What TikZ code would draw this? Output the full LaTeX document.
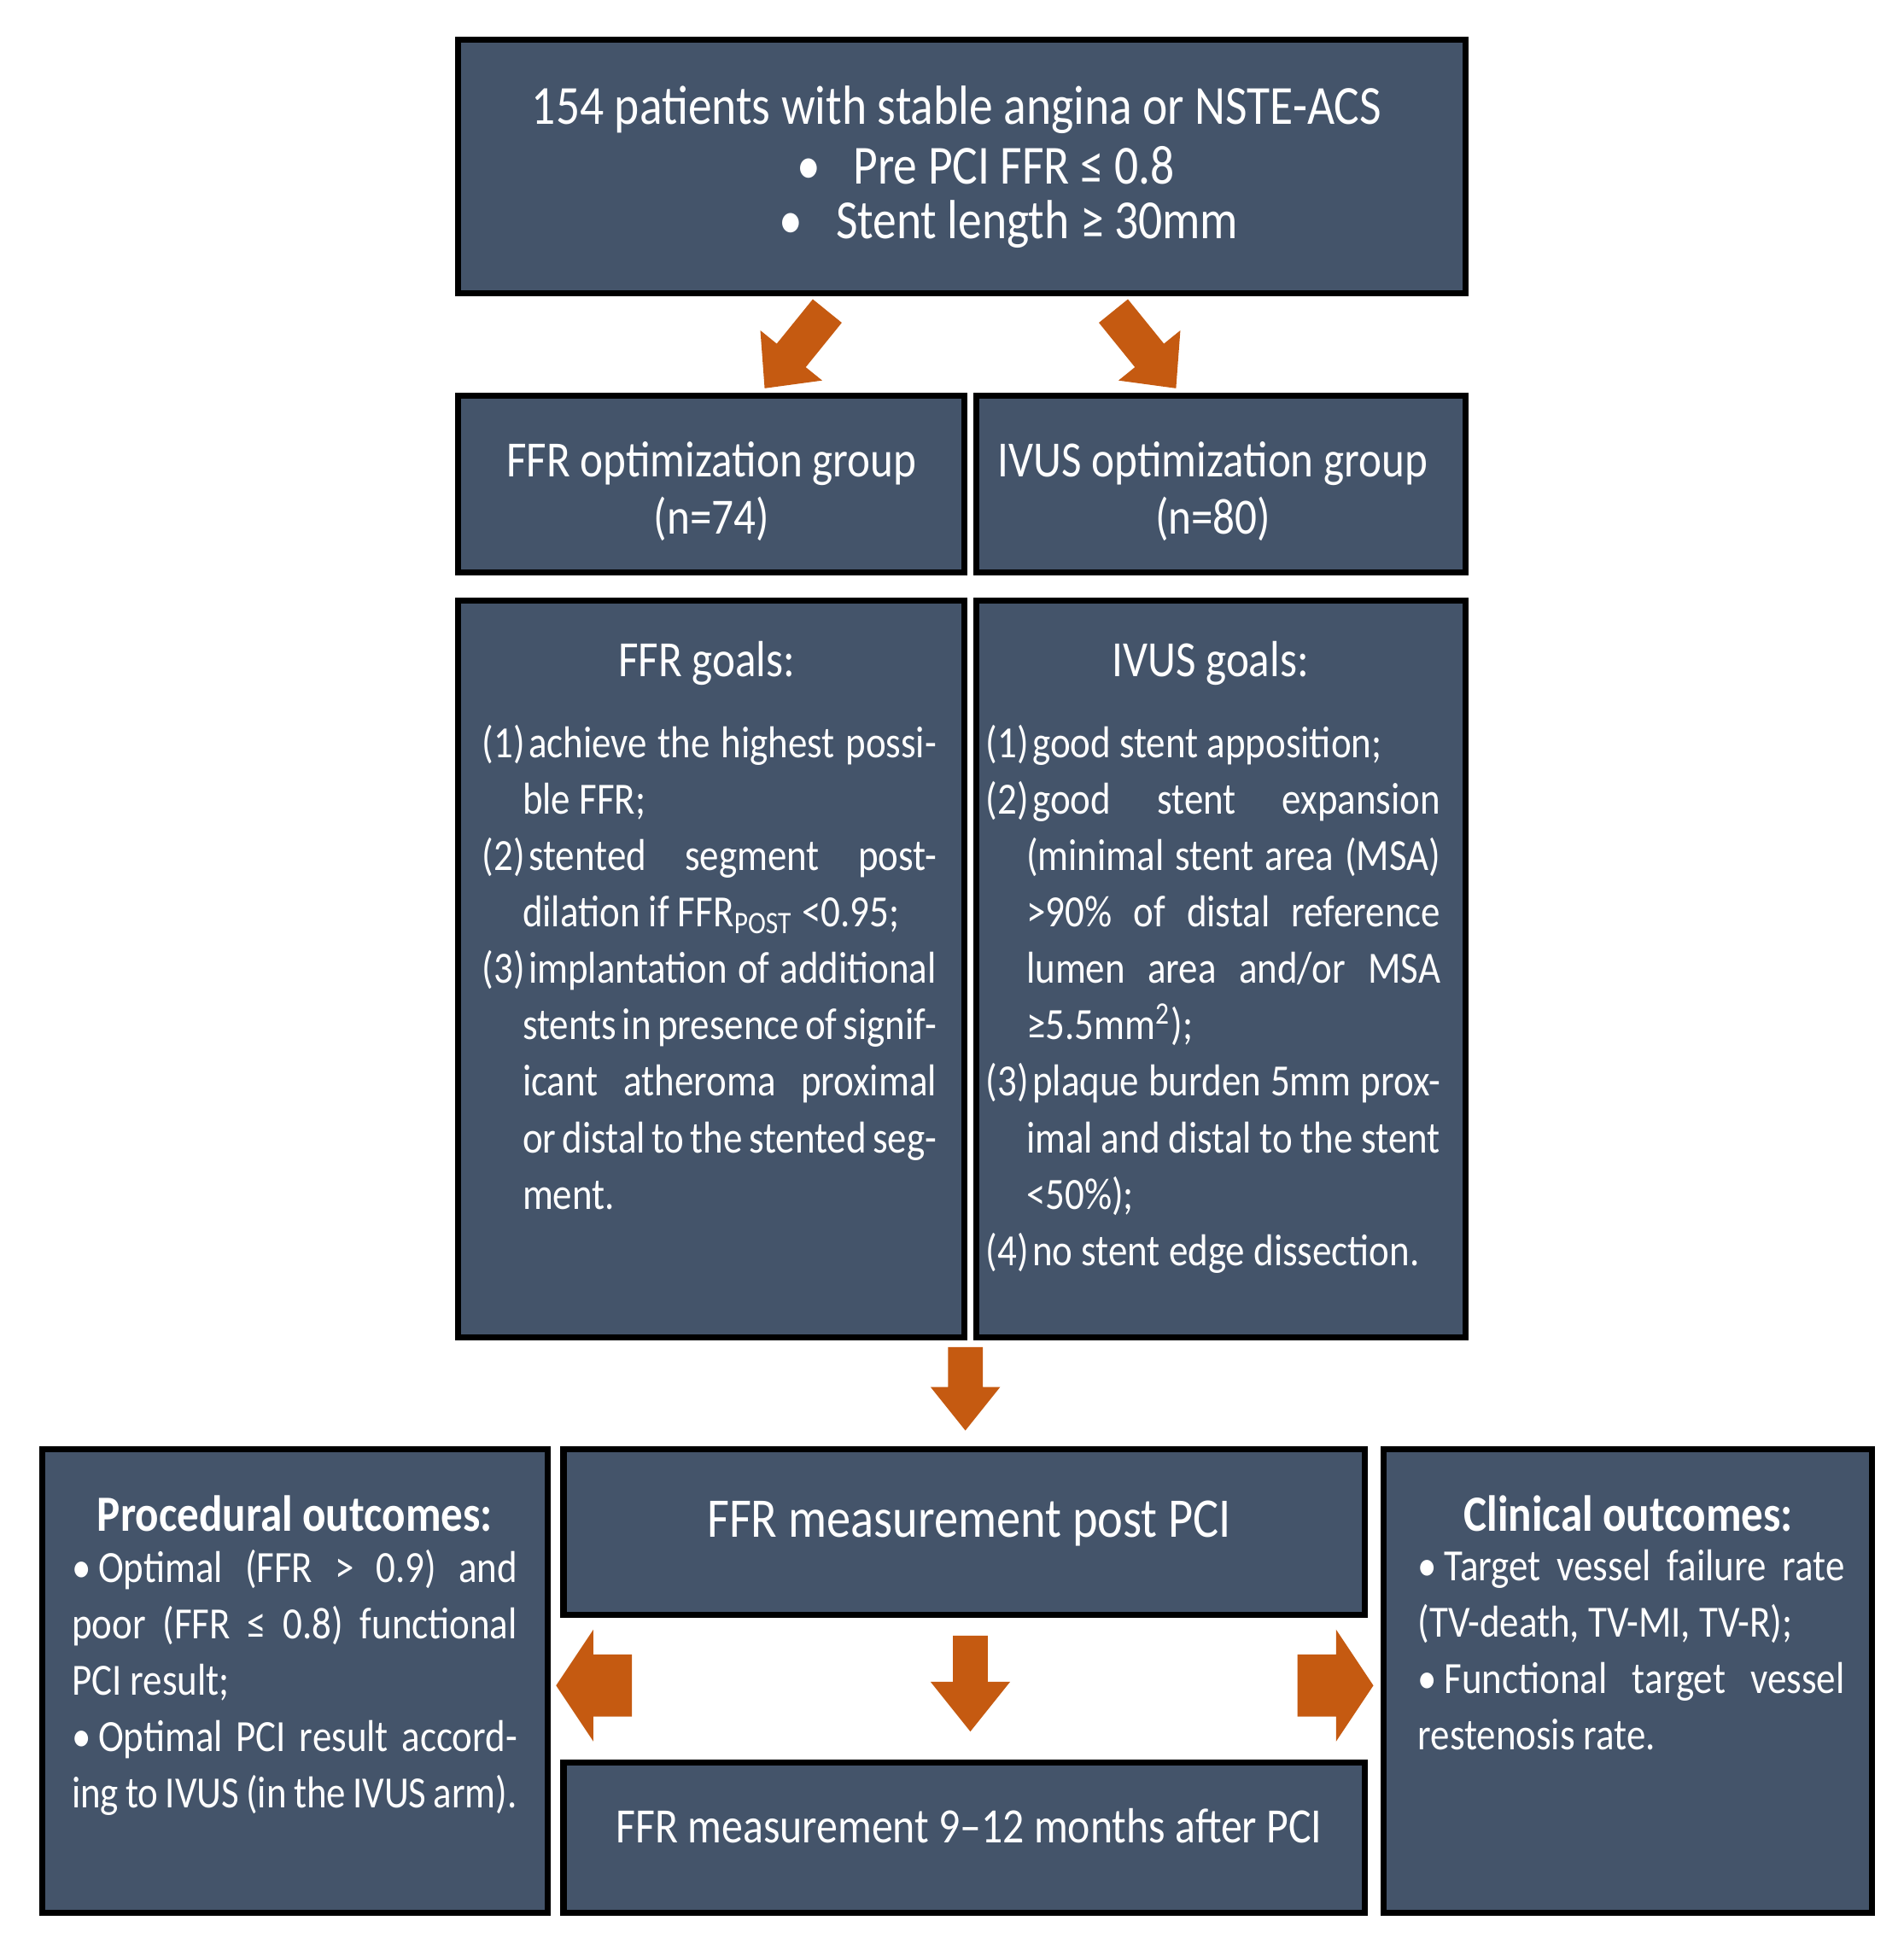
\documentclass[tikz,border=0pt]{standalone}
\usepackage{fontspec}
\setmainfont{Carlito}[FakeStretch=0.86]
\definecolor{boxc}{HTML}{44546A}
\definecolor{arr}{HTML}{C55A11}
\begin{document}
\begin{tikzpicture}[x=0.01cm,y=-0.01cm,
  box/.style={draw=black,line width=1.4pt,fill=boxc,text=white,inner sep=0pt},
  txt/.style={text=white,align=justify,font=\fontsize{10.2}{12.9}\selectfont,anchor=north west,inner sep=0pt}]
\useasboundingbox (0,0) rectangle (1530,1558);
\newcommand{\hi}[1]{\par\noindent\hangindent=9.2pt\hangafter=1 \makebox[10.6pt][l]{(#1)}}
% #1,#2 start; #3 angle; #4 length; #5 shaft half width; #6 head half width; #7 head length
\newcommand{\barrow}[7]{\fill[arr,shift={(#1,#2)},rotate=#3] (0,-#5)--({#4-#7},-#5)--({#4-#7},-#6)--(#4,0)--({#4-#7},#6)--({#4-#7},#5)--(0,#5)--cycle;}
% boxes
\draw[box] (368,32) rectangle (1178,236);
\draw[box] (368,318) rectangle (775,460);
\draw[box] (785,318) rectangle (1178,460);
\draw[box] (368,483) rectangle (775,1075);
\draw[box] (785,483) rectangle (1178,1075);
\draw[box] (34,1165) rectangle (440,1538);
\draw[box] (453,1165) rectangle (1097,1298);
\draw[box] (453,1417) rectangle (1097,1538);
\draw[box] (1112,1165) rectangle (1505,1538);
% texts
\node[text=white,font=\fontsize{12.6}{13}\selectfont] (t) at (769,88) {154 patients with stable angina or NSTE-ACS};
\node[text=white,font=\fontsize{12.6}{13}\selectfont,anchor=west] (t1) at (628,133) {•\hspace{0.6em}Pre PCI FFR ≤ 0.8};
\node[text=white,font=\fontsize{12.6}{13}\selectfont,anchor=west] (t2) at (614,180) {•\hspace{0.6em}Stent length ≥ 30mm};
\node[text=white,align=center,font=\fontsize{11.6}{13}\selectfont] (g1) at (572,395) {FFR optimization group\\(n=74)};
\node[text=white,align=center,font=\fontsize{11.6}{13}\selectfont] (g2) at (975,395) {IVUS optimization group\\(n=80)};
\node[text=white,font=\fontsize{11.6}{13}\selectfont] (h1) at (568,533) {FFR goals:};
\node[text=white,font=\fontsize{11.6}{13}\selectfont] (h2) at (973,533) {IVUS goals:};
\node[txt,text width=3.65cm] (b1) at (387,563) {\hi{1}achieve the highest possible FFR;\hi{2}stented segment post-dilation if FFR\textsubscript{POST} <0.95;\hi{3}implantation of additional stents in presence of significant atheroma proximal or distal to the stented segment.\par};
\node[txt,text width=3.65cm] (b2) at (792,563) {\hi{1}good stent apposition;\hi{2}good stent expansion (minimal stent area (MSA) >90\% of distal reference lumen area and/or MSA ≥5.5mm\textsuperscript{2});\hi{3}plaque burden 5mm proximal and distal to the stent <50\%);\hi{4}no stent edge dissection.\par};
\node[text=white,font=\bfseries\fontsize{11.6}{13}\selectfont] (p) at (237,1217) {Procedural outcomes:};
\node[txt,text width=3.58cm] (pb) at (57,1245) {\noindent•\,Optimal (FFR > 0.9) and poor (FFR ≤ 0.8) functional PCI result;\par\noindent•\,Optimal PCI result according to IVUS (in the IVUS arm).\par};
\node[text=white,font=\bfseries\fontsize{11.6}{13}\selectfont] (c) at (1309,1217) {Clinical outcomes:};
\node[txt,text width=3.43cm] (cb) at (1139,1245) {\noindent•\,Target vessel failure rate (TV-death, TV-MI, TV-R);\par\noindent•\,Functional target vessel restenosis rate.\par};
\node[text=white,font=\fontsize{12.8}{13}\selectfont] (m1) at (779,1225) {FFR measurement post PCI};
\node[text=white,font=\fontsize{11.3}{13}\selectfont] (m2) at (779,1468) {FFR measurement 9--12 months after PCI};
% block arrows
\barrow{665}{250}{-129}{80}{15}{32}{34}
\barrow{895}{250}{-51}{80}{15}{32}{34}
\barrow{776}{1083}{-90}{67}{14}{28}{35}
\barrow{780}{1315}{-90}{77}{14}{32}{40}
\barrow{508}{1355}{180}{61}{25}{45}{30}
\barrow{1043}{1355}{0}{61}{25}{45}{30}
\end{tikzpicture}
\end{document}
